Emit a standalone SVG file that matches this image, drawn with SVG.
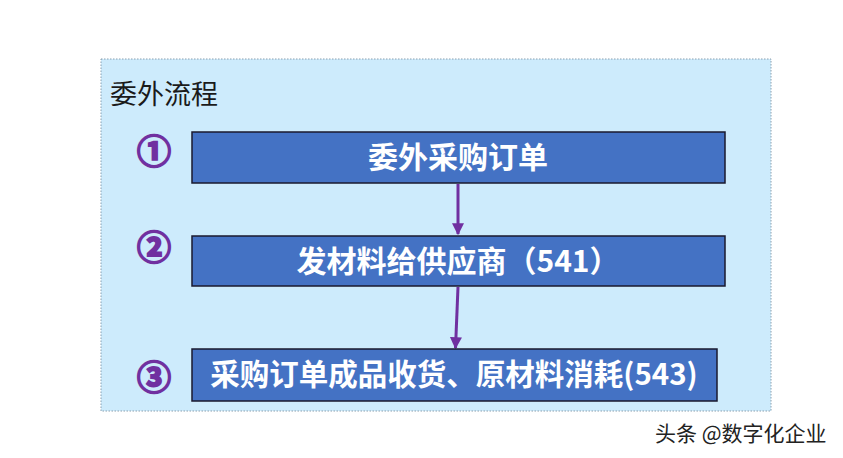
<svg xmlns="http://www.w3.org/2000/svg" width="843" height="458" viewBox="0 0 843 458">
<defs>
<style>
.box{fill:#4472c4;stroke:#1a1a2e;stroke-width:1.5}
.lbl{font-family:"Noto Sans CJK SC","Microsoft YaHei",sans-serif;font-weight:bold;font-size:30px;fill:#ffffff;text-anchor:middle}
.num{font-family:"Noto Sans CJK SC","DejaVu Sans",sans-serif;font-weight:bold;font-size:34px;fill:#7030a0;stroke:#7030a0;stroke-width:2;text-anchor:middle}
.conn{stroke:#7030a0;stroke-width:3;fill:none}
</style>
<marker id="ah" viewBox="0 0 10 10" refX="9" refY="5" markerWidth="4" markerHeight="4.5" orient="auto" markerUnits="strokeWidth">
<path d="M0,0 L10,5 L0,10 z" fill="#7030a0"/>
</marker>
</defs>
<rect width="843" height="458" fill="#ffffff"/>
<g id="frame">
<rect x="101" y="59" width="670" height="352" fill="#cdebfc" stroke="#8aa0b0" stroke-width="1" stroke-dasharray="1.5,1.5"/>
<text x="110" y="104" font-family="Noto Sans CJK SC,sans-serif" font-size="27" fill="#1a1a1a">委外流程</text>
</g>
<g id="connectors">
<line class="conn" x1="458" y1="184" x2="458" y2="234" marker-end="url(#ah)"/>
<line class="conn" x1="458" y1="287" x2="455.5" y2="348" marker-end="url(#ah)"/>
</g>
<g id="node1">
<text class="num" x="154" y="164">①</text>
<rect class="box" x="192" y="132" width="533" height="51"/>
<text class="lbl" x="458" y="168">委外采购订单</text>
</g>
<g id="node2">
<text class="num" x="154" y="260">②</text>
<rect class="box" x="192" y="236" width="533" height="50"/>
<text class="lbl" x="458" y="272">发材料给供应商（541）</text>
</g>
<g id="node3">
<text class="num" x="154" y="390">③</text>
<rect class="box" x="192" y="349" width="525" height="52"/>
<text class="lbl" x="454" y="385" style="font-size:29.5px">采购订单成品收货、原材料消耗(543)</text>
</g>
<g id="watermark">
<text x="655" y="441" font-family="Noto Sans CJK SC,sans-serif" font-size="21" fill="#222222">头条 @数字化企业</text>
</g>
</svg>
